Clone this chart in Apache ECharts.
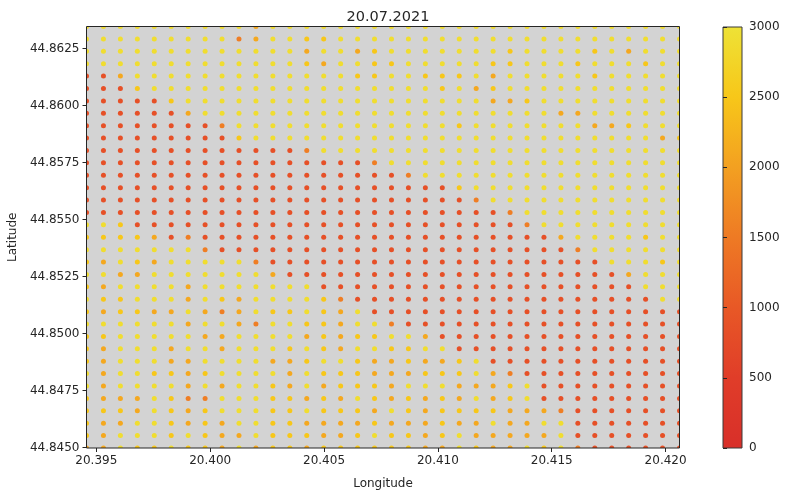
<!DOCTYPE html>
<html>
<head>
<meta charset="utf-8">
<script src="https://cdn.jsdelivr.net/npm/echarts@6/dist/echarts.min.js"></script>
<style>
html, body { margin: 0; padding: 0; background: #ffffff; }
#chart { width: 786px; height: 490px; }
</style>
</head>
<body>
<div id="chart"></div>
<script>
// Grid node longitudes (west to east)
const longitudes = [
  20.394570, 20.395314, 20.396058, 20.396802, 20.397546, 20.398290,
  20.399034, 20.399778, 20.400522, 20.401266, 20.402010, 20.402754,
  20.403498, 20.404242, 20.404986, 20.405730, 20.406474, 20.407218,
  20.407962, 20.408706, 20.409450, 20.410194, 20.410938, 20.411682,
  20.412426, 20.413170, 20.413914, 20.414658, 20.415402, 20.416146,
  20.416890, 20.417634, 20.418378, 20.419122, 20.419866, 20.420610
];

// Grid node latitudes (north to south)
const latitudes = [
  44.863470, 44.862926, 44.862382, 44.861838, 44.861294, 44.860750,
  44.860206, 44.859662, 44.859118, 44.858574, 44.858030, 44.857486,
  44.856942, 44.856398, 44.855854, 44.855310, 44.854766, 44.854222,
  44.853678, 44.853134, 44.852590, 44.852046, 44.851502, 44.850958,
  44.850414, 44.849870, 44.849326, 44.848782, 44.848238, 44.847694,
  44.847150, 44.846606, 44.846062, 44.845518, 44.844974
];

// Value class per node: one row per latitude, one letter per longitude
// (spaces only group the columns in sixes)
const valueRows = [
  "yyyyyy yyyyay yyyyyy yyyyyy yyyyyy yyyyyy",
  "yyyyyy yyyoay yggyyy yyyyyy yyyyyy yyyyyy",
  "yyyyyy yyyyyy yayyag yyyyyy ygyyyy gyayyy",
  "yyyyyy yyyyyy ygayyg gyyyyy ggyyyg yyygyy",
  "rrayyy yyyyyy yyyygg yygggy ayyyyy gyyyyy",
  "rrrgyy yyyyyy yyyyyy yyygya gyyyyy yyyyyy",
  "rrrrrg yyyyyy yyyyyy yyyyyy aagyyy yyyyyy",
  "rrrrrr ayyyyy yyyyyy yyyyyy yyyyaa yyyyyy",
  "rrrrrr rroyyy yyyyyy yyyygy yyyyyy aagyyy",
  "rrrrrr rrrgyy yyyyyy yyyyyy yyyyyy yyyyag",
  "rrrrrr rrrrrr royyyy yyyyyy yyyyyy yyyyyy",
  "rrrrrr rrrrrr rrrrro yyyyyy yyyyyy yyyyyy",
  "rrrrrr rrrrrr rrrrrr royyyy yyyyyy yyyyyy",
  "rrrrrr rrrrrr rrrrrr rrrrgy yyyyyy yyyyyy",
  "rrrrrr rrrrrr rrrrrr rrrrro yyyyyy yyyyyy",
  "rrrrrr rrrrrr rrrrrr rrrrrr royyyy yyyyyy",
  "yygrrr rrrrrr rrrrrr rrrrrr rroyyy yyyyyy",
  "ggggar orrrrr rrrrrr rrrrrr rrrray yyygyy",
  "yyyyyy yorrrr rrrrrr rrrrrr rrrrro yyyyyy",
  "gaygay yyyyor rrrrrr rrrrrr rrrrrr ryyygy",
  "yyaayy yyyyya rrrrrr rrrrrr rrrrrr rrayyy",
  "gayyyy ayyyyy yyrrrr rrrrrr rrrrrr rrryyy",
  "yggyyy aygayy yygorr rrrrrr rrrrrr rrrryy",
  "gaggaa yaoayg gygayr rrrrrr rrrrrr rrrrrr",
  "yyyyyy ayyaoy yggayy orrrrr rrrrrr rrrrrr",
  "ggyyyy yaayyy yagagg yyarrr rrrrrr rrrrrr",
  "gayyya yyayyy gygayy ggyyrr rrrrrr rrrrrr",
  "gayyya ayyyya agyyga agaagy rrrrrr rrrrrr",
  "yayygg agyyyy ayggga aagggy aorrrr rrrrrr",
  "yayyyy ayayyg ayaggg ayyyaa agyrrr rrrrrr",
  "gaaayg ooyyyg gagayg agagay agyrrr rrrrrr",
  "gggayg agyyyg gyggga ygaggg gaaaor rrrrrr",
  "gaayyg agayyg gaaaag aaagaa yaayyr rrrrrr",
  "gayyyg ygaayg ggaagy ggagya aaaayr rrrrrr",
  "aayggy ggayag gagggg ggaayg aaygyo rrrrrr"
];

// Value assigned to each class letter
const levelValues = { r: 850, o: 1550, a: 2100, g: 2500, y: 2900 };

const xTicks = [20.395, 20.400, 20.405, 20.410, 20.415, 20.420];
const yTicks = [44.8450, 44.8475, 44.8500, 44.8525, 44.8550, 44.8575, 44.8600, 44.8625];
const colorbarMin = 0;
const colorbarMax = 3000;
const colorbarStep = 500;

// Red -> orange -> yellow ramp, evenly spaced from min to max
const palette = ['#d82f29', '#e03d29', '#e85826', '#ee7a24', '#f3a021', '#f7c719', '#eee236'];

const points = [];
valueRows.forEach(function (row, i) {
  const cells = row.replace(/\s+/g, '');
  for (let j = 0; j < cells.length; j++) {
    points.push([longitudes[j], latitudes[i], levelValues[cells[j]]]);
  }
});

const FONT = 'DejaVu Sans';
const INK = '#262626';

const plot = { left: 86.5, top: 26.5, width: 593, height: 421.5 };
const bar = { left: 723, top: 27, width: 19, height: 421 };

const gradientStops = palette.map(function (c, k) {
  return { offset: k / (palette.length - 1), color: c };
});

const chart = echarts.init(document.getElementById('chart'), null, { renderer: 'canvas' });

chart.setOption({
  animation: false,
  backgroundColor: '#ffffff',
  title: {
    text: '20.07.2021',
    left: plot.left + plot.width / 2,
    top: 5,
    textAlign: 'center',
    textStyle: { fontFamily: FONT, fontSize: 14.5, fontWeight: 'normal', color: INK }
  },
  grid: [
    {
      left: plot.left, top: plot.top, width: plot.width, height: plot.height,
      outerBoundsMode: 'none', containLabel: false,
      show: true, backgroundColor: '#d3d3d3', borderWidth: 0
    },
    {
      left: bar.left, top: bar.top, width: bar.width, height: bar.height,
      outerBoundsMode: 'none', containLabel: false,
      show: true,
      backgroundColor: new echarts.graphic.LinearGradient(0, 1, 0, 0, gradientStops),
      borderColor: '#3a3a3a', borderWidth: 1
    }
  ],
  xAxis: [
    {
      type: 'value', gridIndex: 0, z: 10,
      min: longitudes[0], max: longitudes[longitudes.length - 1],
      name: 'Longitude', nameLocation: 'middle', nameGap: 30,
      nameTextStyle: { fontFamily: FONT, fontSize: 12, color: INK },
      axisLine: { show: false },
      axisTick: { show: true, customValues: xTicks, length: 4, lineStyle: { color: INK } },
      axisLabel: {
        customValues: xTicks, margin: 7,
        fontFamily: FONT, fontSize: 12, color: INK,
        formatter: function (v) { return v.toFixed(3); }
      },
      splitLine: { show: false }
    },
    { type: 'value', gridIndex: 1, show: false, min: 0, max: 1 }
  ],
  yAxis: [
    {
      type: 'value', gridIndex: 0, z: 10,
      min: latitudes[latitudes.length - 1], max: latitudes[0],
      name: 'Latitude', nameLocation: 'middle', nameGap: 66, nameRotate: 90,
      nameTextStyle: { fontFamily: FONT, fontSize: 12, color: INK },
      axisLine: { show: false },
      axisTick: { show: true, customValues: yTicks, length: 4, lineStyle: { color: INK } },
      axisLabel: {
        customValues: yTicks, margin: 7,
        fontFamily: FONT, fontSize: 12, color: INK,
        formatter: function (v) { return v.toFixed(4); }
      },
      splitLine: { show: false }
    },
    {
      type: 'value', gridIndex: 1, position: 'right', z: 10,
      min: colorbarMin, max: colorbarMax, interval: colorbarStep,
      axisLine: { show: false },
      axisTick: { show: true, length: 4, lineStyle: { color: INK } },
      axisLabel: {
        margin: 7, fontFamily: FONT, fontSize: 12, color: INK,
        formatter: function (v) { return String(v); }
      },
      splitLine: { show: false }
    }
  ],
  visualMap: {
    type: 'continuous', show: false,
    min: colorbarMin, max: colorbarMax, dimension: 2, seriesIndex: 0,
    inRange: { color: palette }
  },
  series: [
    {
      type: 'scatter', xAxisIndex: 0, yAxisIndex: 0,
      symbol: 'circle', symbolSize: 5,
      clip: false,
      itemStyle: { opacity: 1 },
      data: points,
      z: 2
    }
  ],
  graphic: [
    // white margins trim the edge dots to the plot frame
    { type: 'rect', z: 5, silent: true, shape: { x: 78, y: 19, width: 612, height: plot.top - 19 }, style: { fill: '#ffffff' } },
    { type: 'rect', z: 5, silent: true, shape: { x: 78, y: plot.top + plot.height, width: 612, height: 6 }, style: { fill: '#ffffff' } },
    { type: 'rect', z: 5, silent: true, shape: { x: 78, y: 19, width: plot.left - 78, height: 437 }, style: { fill: '#ffffff' } },
    { type: 'rect', z: 5, silent: true, shape: { x: plot.left + plot.width, y: 19, width: 10, height: 437 }, style: { fill: '#ffffff' } },
    // plot frame
    { type: 'rect', z: 11, silent: true,
      shape: { x: plot.left, y: plot.top, width: plot.width, height: plot.height },
      style: { fill: null, stroke: '#262626', lineWidth: 1 } }
  ]
});
</script>
</body>
</html>
